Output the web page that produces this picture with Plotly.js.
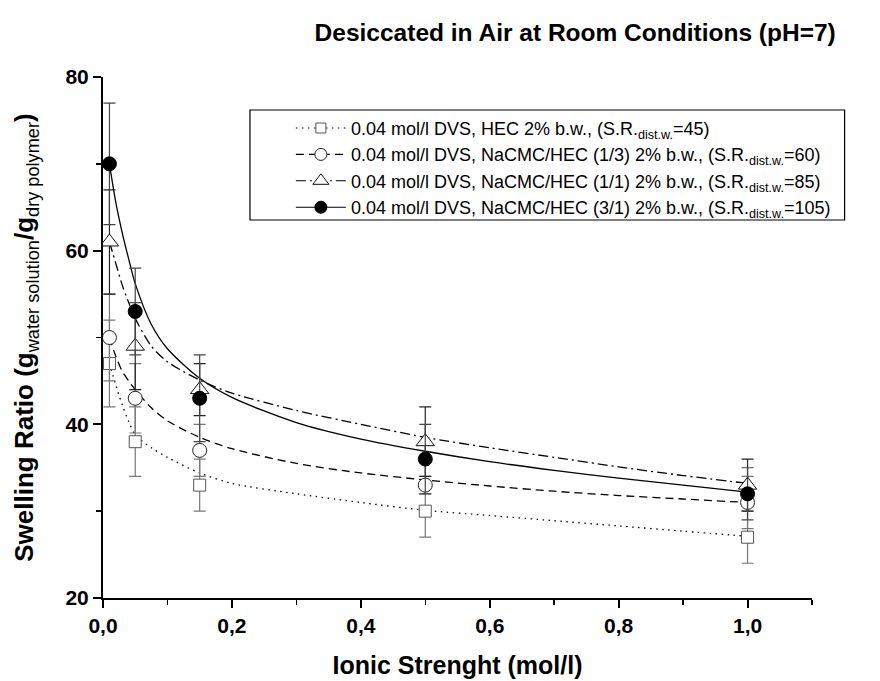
<!DOCTYPE html>
<html>
<head>
<meta charset="utf-8">
<script src="https://cdn.plot.ly/plotly-3.0.1.min.js"></script>
<style>html,body{margin:0;padding:0;background:#fff;}#chart{width:880px;height:681px;}</style>
</head>
<body>
<div id="chart"></div>
<script>
// Measured points
const xData = [0.01, 0.05, 0.15, 0.5, 1.0];
const hecY  = [47, 38, 33, 30, 27];
const hecErr = [5, 4, 3, 3, 3];
const c13Y  = [50, 43, 37, 33, 31];
const c13Err = [5, 4, 3, 1, 3];
const c11Y  = [61, 49, 44, 38, 33];
const c11Err = [6, 5, 3, 4, 3];
const c31Y  = [70, 53, 43, 36, 32];
const c31Err = [7, 5, 5, 4, 3];

// Fitted curves
const fitX   = [0.01, 0.02, 0.03, 0.04, 0.05, 0.075, 0.1, 0.15, 0.2, 0.3, 0.4, 0.5, 0.6, 0.7, 0.8, 0.9, 1.0];
const hecFit = [47, 44.5, 42.2, 40.3, 38.8, 37.3, 36.2, 34.4, 33.2, 32.0, 31.0, 30.1, 29.5, 28.9, 28.3, 27.7, 27.1];
const c13Fit = [50, 47.8, 46.1, 45.0, 44.0, 41.9, 40.4, 38.5, 37.2, 35.5, 34.4, 33.6, 32.9, 32.3, 31.8, 31.4, 31.0];
const c11Fit = [61, 58.5, 56.0, 54.0, 52.2, 49.0, 47.2, 45.1, 43.6, 41.6, 40.0, 38.5, 37.3, 36.2, 35.1, 34.1, 33.2];
const c31Fit = [70, 65.5, 62.0, 59.0, 56.2, 51.5, 48.7, 45.3, 43.1, 40.2, 38.3, 36.9, 35.7, 34.7, 33.8, 33.0, 32.2];

const legendNames = [
  '0.04 mol/l DVS, HEC 2% b.w., (S.R.<sub>dist.w.</sub>=45)',
  '0.04 mol/l DVS, NaCMC/HEC (1/3) 2% b.w., (S.R.<sub>dist.w.</sub>=60)',
  '0.04 mol/l DVS, NaCMC/HEC (1/1) 2% b.w., (S.R.<sub>dist.w.</sub>=85)',
  '0.04 mol/l DVS, NaCMC/HEC (3/1) 2% b.w., (S.R.<sub>dist.w.</sub>=105)'
];

const series = [
  {y: hecY, err: hecErr, fit: hecFit, dash: '1.5px,4.5px', sym: 'square', size: 12, ecol: '#777', mfill: '#fff', mline: '#555'},
  {y: c13Y, err: c13Err, fit: c13Fit, dash: '8px,5px', sym: 'circle', size: 14, ecol: '#777', mfill: '#fff', mline: '#222'},
  {y: c11Y, err: c11Err, fit: c11Fit, dash: '10px,4px,2px,4px', sym: 'triangle-up', size: 16, ecol: '#222', mfill: '#fff', mline: '#111'},
  {y: c31Y, err: c31Err, fit: c31Fit, dash: 'solid', sym: 'circle', size: 14, ecol: '#444', mfill: '#000', mline: '#000'}
];

const traces = [];
series.forEach(s => {
  traces.push({x: fitX, y: s.fit, type: 'scatter', mode: 'lines', showlegend: false,
    line: {color: '#000', width: 1.3, dash: s.dash, shape: 'spline', smoothing: 0.8}, hoverinfo: 'skip'});
});
series.forEach(s => {
  traces.push({x: xData, y: s.y, type: 'scatter', mode: 'markers', showlegend: false,
    marker: {symbol: s.sym, size: s.size, color: s.mfill, line: {color: s.mline, width: 1}},
    error_y: {type: 'data', array: s.err, visible: true, color: s.ecol, thickness: 1.2, width: 6}});
});
series.forEach((s, i) => {
  traces.push({x: [null], y: [null], type: 'scatter', mode: 'lines+markers', name: legendNames[i], showlegend: true,
    line: {color: '#000', width: 1.1, dash: s.dash},
    marker: {symbol: s.sym, size: s.size - 2, color: s.mfill, line: {color: s.mline, width: 1}}});
});

const tickFont = {family: 'Liberation Sans, Arial, sans-serif', size: 21, color: '#000', weight: 'bold'};
const layout = {
  width: 880, height: 681,
  margin: {l: 103, r: 68, t: 77, b: 83},
  paper_bgcolor: '#fff', plot_bgcolor: '#fff',
  separators: ',.',
  font: {family: 'Liberation Sans, Arial, sans-serif', color: '#000'},
  title: {text: '<b>Desiccated in Air at Room Conditions (pH=7)</b>', font: {size: 24.5, color: '#000'},
    x: 0.666, xref: 'paper', xanchor: 'center', y: 0.953, yref: 'container', yanchor: 'middle'},
  xaxis: {range: [0, 1.1], showgrid: false, zeroline: false, showline: true, linecolor: '#000', linewidth: 2,
    ticks: 'outside', ticklen: 8, tickwidth: 2, tickcolor: '#000', dtick: 0.2, tick0: 0, tickformat: '.1f',
    minor: {dtick: 0.1, ticks: 'outside', ticklen: 5, tickwidth: 1.5, tickcolor: '#000'},
    tickfont: tickFont,
    title: {text: '<b>Ionic Strenght (mol/l)</b>', font: {size: 25, color: '#000'}, standoff: 20}},
  yaxis: {range: [20, 80], showgrid: false, zeroline: false, showline: true, linecolor: '#000', linewidth: 2,
    ticks: 'outside', ticklen: 8, tickwidth: 2, tickcolor: '#000', dtick: 20, tick0: 20,
    minor: {dtick: 10, ticks: 'outside', ticklen: 5, tickwidth: 1.5, tickcolor: '#000'},
    tickfont: tickFont,
    title: {text: '<b>Swelling Ratio (g</b><sub>water solution</sub><b>/g</b><sub>dry polymer</sub><b>)</b>', font: {size: 26, color: '#000'}, standoff: 24}},
  legend: {x: 0.265, y: 0.937, xanchor: 'left', yanchor: 'top', bgcolor: 'rgba(0,0,0,0)', borderwidth: 0,
    font: {size: 18, color: '#000', family: 'Liberation Sans, Arial, sans-serif'}, itemwidth: 50, tracegroupgap: 0},
  shapes: [{type: 'rect', xref: 'paper', yref: 'paper', x0: 0.2073, x1: 1.046, y0: 0.7255, y1: 0.9367,
    line: {color: '#000', width: 1.2}, fillcolor: 'rgba(0,0,0,0)', layer: 'below'}],
  showlegend: true
};

Plotly.newPlot('chart', traces, layout, {displayModeBar: false, staticPlot: true});
</script>
</body>
</html>
